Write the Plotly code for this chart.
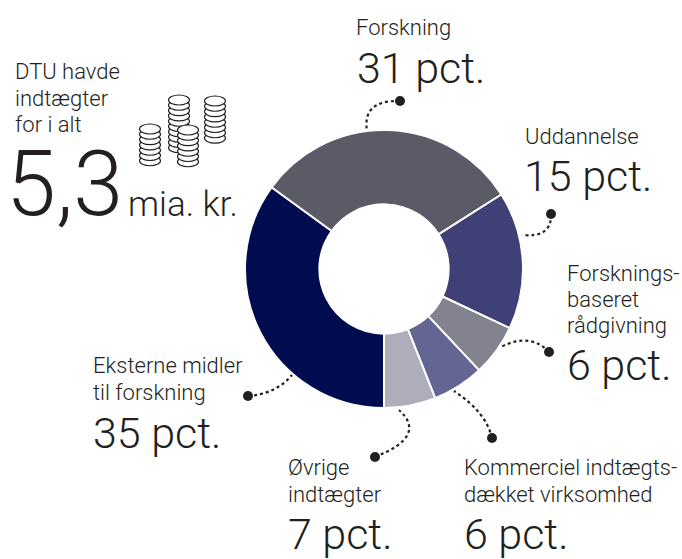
import plotly.graph_objects as go

# --- data ---
slice_names = ["Eksterne midler til forskning", "Forskning", "Uddannelse",
               "Forskningsbaseret rådgivning", "Kommerciel indtægtsdækket virksomhed", "Øvrige indtægter"]
slice_values = [35, 31, 16, 6, 6, 6]   # drawn arc sizes
slice_colors = ["#000c4f", "#5b5b67", "#3e4076", "#838390", "#636593", "#adadbb"]

INK = "#231f20"
FONT = "Roboto"

fig = go.Figure()
W, H = 682, 559
cx, cy, R = 384, 269, 139
fig.add_trace(go.Pie(
    labels=slice_names, values=slice_values, sort=False, direction="clockwise", rotation=180,
    hole=0.465, textinfo="none", hoverinfo="label+value", showlegend=False,
    marker=dict(colors=slice_colors, line=dict(color="white", width=2)),
    domain=dict(x=[(cx - R) / W, (cx + R) / W], y=[(H - cy - R) / H, (H - cy + R) / H]),
))

fig.update_xaxes(range=[0, W], visible=False, fixedrange=True)
fig.update_yaxes(range=[H, 0], visible=False, fixedrange=True)
fig.add_trace(go.Scatter(x=[0], y=[0], mode="markers", marker=dict(opacity=0), showlegend=False, hoverinfo="skip"))

# text: (x, y-centre, text, size)
S, B = 22, 43
texts = [
    (355, 27, "Forskning", S), (356, 68, "31 pct.", B),
    (524, 136, "Uddannelse", S), (523, 176, "15 pct.", B),
    (566, 273, "Forsknings-", S), (566, 299, "baseret", S), (566, 325, "rådgivning", S),
    (566, 365, "6 pct.", B),
    (92, 365, "Eksterne midler", S), (92, 392, "til forskning", S), (92, 433, "35 pct.", B),
    (287, 467, "Øvrige", S), (287, 494, "indtægter", S), (287, 534, "7 pct.", B),
    (463, 467, "Kommerciel indtægts-", S), (463, 494, "dækket virksomhed", S), (463, 534, "6 pct.", B),
    (14, 71, "DTU havde", S), (14, 98, "indtægter", S), (14, 124, "for i alt", S),
    (5, 184, "5,3", 90), (127, 204, "mia. kr.", 35),
]
for x, y, t, s in texts:
    fig.add_annotation(x=x, y=y, xref="x", yref="y", text=t, showarrow=False, xanchor="left", yanchor="middle",
                       borderpad=0, font=dict(family=FONT, size=s, color=INK, weight=300))

# leader lines: dot, control point, slice end
leaders = [
    ((400, 101), (362, 100), (367, 131)),
    ((551, 214), (552, 238), (522, 235)),
    ((549, 352), (530, 332), (501, 347)),
    ((492, 438), (486, 412), (454, 391)),
    ((375, 457), (428, 436), (399, 410)),
    ((248, 396), (276, 394), (292, 375)),
]
shapes = []
for (a, c, b) in leaders:
    shapes.append(dict(type="path", xref="x", yref="y",
                       path=f"M{a[0]},{a[1]} Q{c[0]},{c[1]} {b[0]},{b[1]}",
                       line=dict(color=INK, width=2.2, dash="dot")))
    shapes.append(dict(type="circle", xref="x", yref="y", x0=a[0]-5, x1=a[0]+5, y0=a[1]-5, y1=a[1]+5,
                       fillcolor=INK, line=dict(width=0)))

# coin stacks, back to front: centre x, top y, coin count
stacks = [(179, 95, 10), (215, 96, 8), (150, 124, 7), (188, 125, 7)]
for sx, top, n in stacks:
    for i in range(n - 1, -1, -1):
        y = top + 5 + i * 5.3
        shapes.append(dict(type="circle", xref="x", yref="y", x0=sx-10.5, x1=sx+10.5, y0=y-5, y1=y+5,
                           fillcolor="white", line=dict(color=INK, width=1.1)))

fig.update_layout(width=W, height=H, margin=dict(l=0, r=0, t=0, b=0), paper_bgcolor="white", plot_bgcolor="rgba(0,0,0,0)",
                  shapes=shapes, showlegend=False, font=dict(family=FONT))
fig.write_html("out.html", config=dict(displayModeBar=False),
               post_script="document.body.style.margin='0';document.documentElement.style.overflow='hidden';")
